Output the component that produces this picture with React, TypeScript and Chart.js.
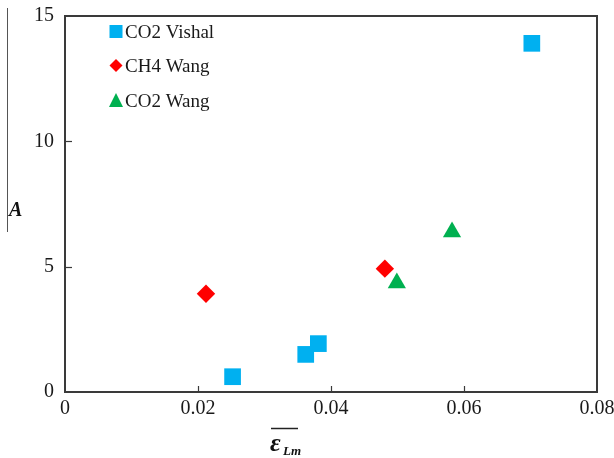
import React, { useEffect, useRef } from 'react';
import { Chart, registerables } from 'chart.js';
Chart.register(...registerables);

const seriesNames = ['CO2 Vishal', 'CH4 Wang', 'CO2 Wang'];
const co2VishalX = [0.0252, 0.0362, 0.0381, 0.0702];
const co2VishalY = [0.61, 1.5, 1.93, 13.91];
const ch4WangX = [0.0212, 0.0481];
const ch4WangY = [3.92, 4.92];
const co2WangX = [0.0499, 0.0582];
const co2WangY = [4.35, 6.38];
const xTicks = [0, 0.02, 0.04, 0.06, 0.08];
const yTicks = [0, 5, 10, 15];

const FONT = '"Liberation Serif", "Times New Roman", serif';
const colors = ['#00B0F0', '#FF0000', '#00B050'];

const toPts = (xs: number[], ys: number[]) => xs.map((x, i) => ({ x, y: ys[i] }));

const decorPlugin = {
  id: 'decor',
  afterDraw(chart: any) {
    const { ctx, chartArea } = chart;
    const { left, right, top, bottom } = chartArea;
    const xs = chart.scales.x;
    const ys = chart.scales.y;
    ctx.save();
    // box
    ctx.strokeStyle = '#3a3a3a';
    ctx.lineWidth = 2;
    ctx.strokeRect(left, top, right - left, bottom - top);
    // inner ticks
    ctx.lineWidth = 1.2;
    xTicks.slice(1, -1).forEach((v) => {
      const px = Math.round(xs.getPixelForValue(v)) + 0.5;
      ctx.beginPath();
      ctx.moveTo(px, bottom);
      ctx.lineTo(px, bottom - 6);
      ctx.stroke();
    });
    yTicks.slice(1, -1).forEach((v) => {
      const py = Math.round(ys.getPixelForValue(v)) + 0.5;
      ctx.beginPath();
      ctx.moveTo(left, py);
      ctx.lineTo(left + 7, py);
      ctx.stroke();
    });
    // stray vertical line at left
    ctx.strokeStyle = '#555';
    ctx.lineWidth = 1;
    ctx.beginPath();
    ctx.moveTo(7.5, 8);
    ctx.lineTo(7.5, 232);
    ctx.stroke();
    // y title
    ctx.fillStyle = '#111';
    ctx.textBaseline = 'alphabetic';
    ctx.textAlign = 'left';
    ctx.font = `bold italic 20px ${FONT}`;
    ctx.fillText('A', 9, 216);
    // x title with overline
    ctx.font = `bold italic 26px ${FONT}`;
    ctx.fillText('ε', 270, 451);
    ctx.font = `bold italic 13px ${FONT}`;
    ctx.fillText('Lm', 283, 455);
    ctx.strokeStyle = '#222';
    ctx.lineWidth = 1.5;
    ctx.beginPath();
    ctx.moveTo(271, 428.5);
    ctx.lineTo(298, 428.5);
    ctx.stroke();
    // legend
    const items = [
      { y: 31.5, text: seriesNames[0], base: 38 },
      { y: 65.5, text: seriesNames[1], base: 72 },
      { y: 100, text: seriesNames[2], base: 107 },
    ];
    const mx = 116;
    ctx.fillStyle = colors[0];
    ctx.fillRect(mx - 6.5, items[0].y - 6.5, 13, 13);
    ctx.fillStyle = colors[1];
    ctx.beginPath();
    ctx.moveTo(mx, items[1].y - 6.5);
    ctx.lineTo(mx + 6.5, items[1].y);
    ctx.lineTo(mx, items[1].y + 6.5);
    ctx.lineTo(mx - 6.5, items[1].y);
    ctx.closePath();
    ctx.fill();
    ctx.fillStyle = colors[2];
    ctx.beginPath();
    ctx.moveTo(mx, items[2].y - 7);
    ctx.lineTo(mx + 7, items[2].y + 7);
    ctx.lineTo(mx - 7, items[2].y + 7);
    ctx.closePath();
    ctx.fill();
    ctx.fillStyle = '#1a1a1a';
    ctx.font = `19px ${FONT}`;
    items.forEach((it) => ctx.fillText(it.text, 125, it.base));
    ctx.restore();
  },
};

export default function App() {
  const ref = useRef<HTMLCanvasElement | null>(null);
  useEffect(() => {
    document.body.style.margin = '0';
    const chart = new Chart(ref.current as HTMLCanvasElement, {
      type: 'scatter',
      data: {
        datasets: [
          {
            label: seriesNames[0],
            data: toPts(co2VishalX, co2VishalY),
            pointStyle: 'rect',
            pointRadius: 11.8,
            backgroundColor: colors[0],
            borderWidth: 0,
          },
          {
            label: seriesNames[1],
            data: toPts(ch4WangX, ch4WangY),
            pointStyle: 'rectRot',
            pointRadius: 9.2,
            backgroundColor: colors[1],
            borderWidth: 0,
          },
          {
            label: seriesNames[2],
            data: toPts(co2WangX, co2WangY),
            pointStyle: 'triangle',
            pointRadius: 10.5,
            backgroundColor: colors[2],
            borderWidth: 0,
          },
        ],
      },
      options: {
        responsive: false,
        animation: false,
        devicePixelRatio: 1,
        layout: { padding: { top: 16, right: 17, left: 0, bottom: 0 } },
        plugins: { legend: { display: false }, tooltip: { enabled: false } },
        scales: {
          x: {
            type: 'linear',
            min: 0,
            max: 0.08,
            grid: { display: false, drawTicks: false },
            border: { display: false },
            afterBuildTicks: (s: any) => {
              s.ticks = xTicks.map((v) => ({ value: v }));
            },
            afterFit: (s: any) => {
              s.height = 66;
              s.paddingLeft = 0;
              s.paddingRight = 0;
            },
            ticks: {
              padding: 5,
              maxRotation: 0,
              color: '#1a1a1a',
              font: { family: FONT, size: 20 },
              callback: (v: any) => String(v),
            },
          },
          y: {
            type: 'linear',
            min: 0,
            max: 15,
            grid: { display: false, drawTicks: false },
            border: { display: false },
            afterBuildTicks: (s: any) => {
              s.ticks = yTicks.map((v) => ({ value: v }));
            },
            afterFit: (s: any) => {
              s.width = 65;
              s.paddingTop = 0;
              s.paddingBottom = 0;
            },
            ticks: {
              padding: 11,
              color: '#1a1a1a',
              font: { family: FONT, size: 20 },
              callback: (v: any) => String(v),
            },
          },
        },
      },
      plugins: [decorPlugin],
    } as any);
    return () => chart.destroy();
  }, []);
  return (
    <div style={{ position: 'fixed', left: 0, top: 0, width: 614, height: 458, background: '#fff' }}>
      <canvas ref={ref} width={614} height={458} style={{ width: 614, height: 458 }} />
    </div>
  );
}
